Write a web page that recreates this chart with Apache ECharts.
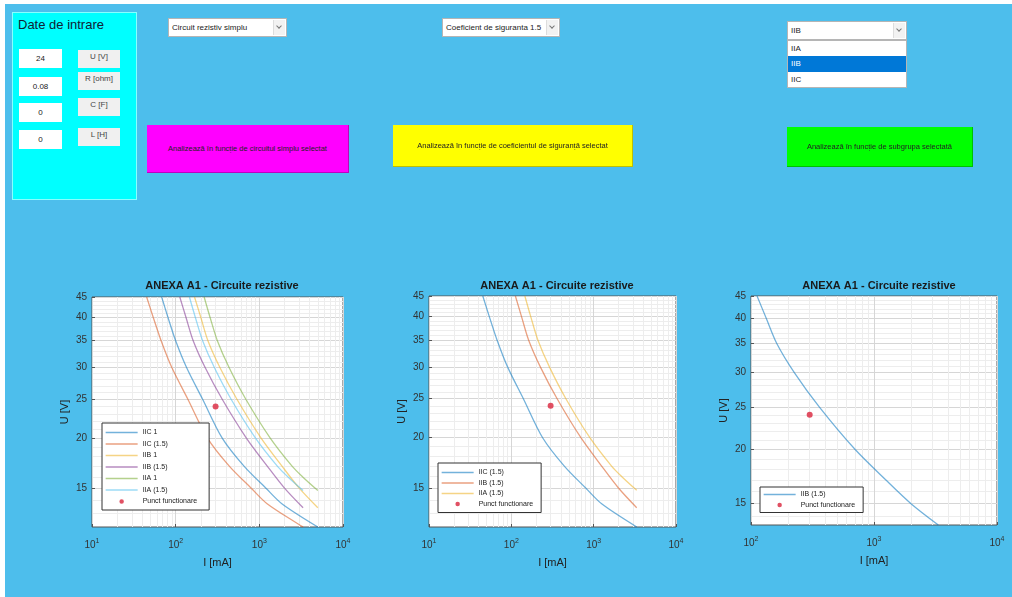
<!DOCTYPE html>
<html>
<head>
<meta charset="utf-8">
<title>ANEXA A1 - Circuite rezistive</title>
<script src="https://cdn.jsdelivr.net/npm/echarts@6/dist/echarts.min.js"></script>
<style>
  html, body { margin: 0; padding: 0; width: 1012px; height: 597px; background: #fff; overflow: hidden; }
  body { font-family: "Liberation Sans", Arial, sans-serif; }
  .fig { position: absolute; left: 5px; top: 4px; right: 0; bottom: 0; background: #4dbeec; }
  #chart { position: absolute; left: 0; top: 0; width: 1012px; height: 597px; }
  .ui { position: absolute; box-sizing: border-box; font-size: 8px; color: #222; white-space: nowrap; }
  .panel { left: 12px; top: 12px; width: 125px; height: 188px; background: #00ffff; border: 1px solid #8ff; }
  .panel-title { left: 18px; top: 17px; font-size: 13px; color: #123; }
  .edit { left: 19px; width: 43px; height: 19px; background: #fff; text-align: center; line-height: 19px; }
  .lbl { left: 78px; width: 42px; height: 18px; background: #f0f0f0; text-align: center; padding-top: 2px; color: #444; }
  .popup { height: 19px; background: #fff; border: 1px solid #b5b5b5; line-height: 17px; padding-left: 3px; }
  .popup .arr { position: absolute; right: 1px; top: 1px; width: 11px; height: 15px; background: #f2f2f2; border-left: 1px solid #ddd; }
  .popup .arr:after { content: ""; position: absolute; left: 3px; top: 4px; width: 3px; height: 3px; border-right: 1px solid #777; border-bottom: 1px solid #777; transform: rotate(45deg); }
  .list { left: 787px; top: 40px; width: 120px; height: 48px; background: #fff; border: 1px solid #b5b5b5; }
  .list div { height: 15.3px; line-height: 15px; padding-left: 3px; }
  .list .sel { background: #0078d7; color: #fff; }
  .btn { text-align: center; font-size: 7.5px; border-right: 1px solid rgba(0,0,0,0.25); border-bottom: 1px solid rgba(0,0,0,0.25); }
</style>
</head>
<body>
<div class="fig"></div>
<div id="chart"></div>

<div class="ui panel"></div>
<div class="ui panel-title">Date de intrare</div>
<div class="ui edit" style="top:49px">24</div>
<div class="ui edit" style="top:77px">0.08</div>
<div class="ui edit" style="top:103px">0</div>
<div class="ui edit" style="top:130px">0</div>
<div class="ui lbl" style="top:50px">U [V]</div>
<div class="ui lbl" style="top:72px">R [ohm]</div>
<div class="ui lbl" style="top:98px">C [F]</div>
<div class="ui lbl" style="top:128px">L [H]</div>

<div class="ui popup" style="left:168px; top:18px; width:119px">Circuit rezistiv simplu<span class="arr"></span></div>
<div class="ui popup" style="left:442px; top:18px; width:118px">Coeficient de siguranta 1.5<span class="arr"></span></div>
<div class="ui popup" style="left:787px; top:21px; width:120px">IIB<span class="arr"></span></div>
<div class="ui list"><div>IIA</div><div class="sel">IIB</div><div>IIC</div></div>

<div class="ui btn" style="left:147px; top:125px; width:202px; height:48px; line-height:47px; background:#ff00ff">Analizează în funcție de circuitul simplu selectat</div>
<div class="ui btn" style="left:393px; top:125px; width:240px; height:42px; line-height:41px; background:#ffff00">Analizează în funcție de coeficientul de siguranță selectat</div>
<div class="ui btn" style="left:787px; top:127px; width:186px; height:40px; line-height:39px; background:#00ff00">Analizează în funcție de subgrupa selectată</div>

<script>
// curbe de aprindere, circuite rezistive: tensiune U [V] si curent I [mA]
const iicU = [45, 40, 35, 30, 25, 20, 17, 15, 13.7, 12];
const iicI1 = [68, 81, 100, 135, 210, 360, 660, 1200, 1875, 5000];
const iicI15 = [45, 54, 67, 90, 140, 240, 440, 800, 1250, 3333];

const iibU = [45, 40, 35, 30, 25, 20, 17, 15, 13.4];
const iibI1 = [168, 200, 243, 338, 540, 1050, 1875, 3000, 5000];
const iibI15 = [112, 133, 162, 225, 360, 700, 1250, 2000, 3333];

const iiaU = [45, 40, 35, 30, 25, 20, 17, 16, 14.8];
const iiaI1 = [219, 258, 315, 435, 690, 1350, 2475, 3300, 5000];
const iiaI15 = [146, 172, 210, 290, 460, 900, 1650, 2200, 3333];

// punctul de functionare
const punctI = [300];
const punctU = [24];

// etichete / grila
const xTicks = [10, 100, 1000, 10000];
const xMinor = [20, 30, 40, 50, 60, 70, 80, 90, 200, 300, 400, 500, 600, 700, 800, 900,
  2000, 3000, 4000, 5000, 6000, 7000, 8000, 9000];
const yTicks = [15, 20, 25, 30, 35, 40, 45];
const yMinor = [13, 14, 16, 17, 18, 19, 21, 22, 23, 24, 26, 27, 28, 29, 31, 32, 33, 34,
  36, 37, 38, 39, 41, 42, 43, 44];

const col = {
  blue: '#0072BD', orange: '#D95319', yellow: '#EDB120',
  purple: '#7E2F8E', green: '#77AC30', cyan: '#4DBEEE', red: '#d9243c'
};
const PUNCT = 'Punct functionare';
// cerc mic pentru legenda (colturile aproape invizibile fixeaza marimea)
const dotIcon = 'path://M0,0h0.1v0.1h-0.1z M10,10h-0.1v-0.1h0.1z M5,1.8a3.2,3.2 0 1,0 0.001,0z';

function pairs(I, U) {
  return I.map((v, i) => [v, U[i]]);
}

// 3 grafice: pozitie grid + limite axe
const grids = [
  { left: 92, top: 297, width: 251, height: 230, xmin: 10, ymin: 12, center: 217 },
  { left: 429, top: 296, width: 247, height: 231, xmin: 10, ymin: 12, center: 552 },
  { left: 751, top: 296, width: 246, height: 229, xmin: 100, ymin: 13.4, center: 874 }
];

const axisText = { color: '#333', fontSize: 10, fontFamily: 'Liberation Sans' };

let xAxes = [], yAxes = [];
// intai axele cu grila minora, ca sa fie desenate sub cele principale
grids.forEach((g, k) => {
  xAxes.push({
    type: 'log', logBase: 10, gridIndex: k, min: g.xmin, max: 10000, position: 'top',
    axisLine: { show: false }, axisLabel: { show: false },
    axisTick: { show: false, customValues: xMinor },
    splitLine: { show: true, lineStyle: { color: '#ededed', width: 1 } }
  });
  yAxes.push({
    type: 'log', logBase: 10, gridIndex: k, min: g.ymin, max: 45, position: 'right',
    axisLine: { show: false }, axisLabel: { show: false },
    axisTick: { show: false, customValues: yMinor },
    splitLine: { show: true, lineStyle: { color: '#ededed', width: 1 } }
  });
});
grids.forEach((g, k) => {
  xAxes.push({
    type: 'log', logBase: 10, gridIndex: k, min: g.xmin, max: 10000, position: 'bottom',
    name: 'I [mA]', nameLocation: 'middle', nameGap: 30,
    nameTextStyle: { color: '#222', fontSize: 11, fontFamily: 'Liberation Sans' },
    axisLine: { show: false },
    axisTick: { show: true, inside: true, length: 3, customValues: xTicks, lineStyle: { color: '#555' } },
    axisLabel: {
      customValues: xTicks, margin: 11,
      formatter: v => '{b|10}{s|' + Math.round(Math.log10(v)) + '}',
      rich: {
        b: { fontSize: 10, color: '#333', fontFamily: 'Liberation Sans' },
        s: { fontSize: 7, color: '#333', fontFamily: 'Liberation Sans', padding: [0, 0, 7, 0] }
      }
    },
    splitLine: { show: true, lineStyle: { color: '#d6d6d6', width: 1 } }
  });
  yAxes.push({
    type: 'log', logBase: 10, gridIndex: k, min: g.ymin, max: 45, position: 'left',
    name: 'U [V]', nameLocation: 'middle', nameGap: 22,
    nameTextStyle: { color: '#222', fontSize: 11, fontFamily: 'Liberation Sans' },
    axisLine: { show: false },
    axisTick: { show: true, inside: true, length: 3, customValues: yTicks, lineStyle: { color: '#555' } },
    axisLabel: Object.assign({ customValues: yTicks, margin: 5 }, axisText),
    splitLine: { show: true, lineStyle: { color: '#d6d6d6', width: 1 } }
  });
});

function curve(name, I, U, color, k) {
  return {
    name: name, type: 'line', xAxisIndex: 3 + k, yAxisIndex: 3 + k,
    data: pairs(I, U), symbol: 'none', smooth: 0.3, z: 3,
    lineStyle: { color: color, width: 1.3, opacity: 0.55 },
    itemStyle: { color: color }
  };
}
function punct(k) {
  return {
    name: PUNCT, type: 'scatter', xAxisIndex: 3 + k, yAxisIndex: 3 + k,
    data: pairs(punctI, punctU), symbol: 'circle', symbolSize: 6, z: 4,
    itemStyle: { color: col.red, opacity: 0.8 }
  };
}

const series = [
  curve('IIC 1', iicI1, iicU, col.blue, 0),
  curve('IIC (1.5)', iicI15, iicU, col.orange, 0),
  curve('IIB 1', iibI1, iibU, col.yellow, 0),
  curve('IIB (1.5)', iibI15, iibU, col.purple, 0),
  curve('IIA 1', iiaI1, iiaU, col.green, 0),
  curve('IIA (1.5)', iiaI15, iiaU, col.cyan, 0),
  punct(0),
  curve('IIC (1.5)', iicI15, iicU, col.blue, 1),
  curve('IIB (1.5)', iibI15, iibU, col.orange, 1),
  curve('IIA (1.5)', iiaI15, iiaU, col.yellow, 1),
  punct(1),
  curve('IIB (1.5)', iibI15, iibU, col.blue, 2),
  punct(2)
];

function legendItems(list) {
  return list.map(([name, color]) => name === PUNCT
    ? { name: name, icon: dotIcon, itemStyle: { color: col.red, opacity: 0.8 } }
    : {
        name: name,
        itemStyle: { color: 'rgba(0,0,0,0)', borderWidth: 0, opacity: 0 },
        lineStyle: { color: color, width: 1.3, opacity: 0.55 }
      });
}
function legend(left, top, gap, pad, list) {
  return {
    orient: 'vertical', left: left, top: top,
    backgroundColor: '#fff', borderColor: '#333', borderWidth: 1,
    padding: pad, itemWidth: 32, itemHeight: 7, itemGap: gap,
    textStyle: { fontSize: 7, color: '#222', fontFamily: 'Liberation Sans' },
    selectedMode: false,
    data: legendItems(list)
  };
}

const chart = echarts.init(document.getElementById('chart'));
chart.setOption({
  animation: false,
  backgroundColor: 'transparent',
  title: grids.map(g => ({
    text: 'ANEXA A1 - Circuite rezistive',
    left: g.center, top: 275, textAlign: 'center',
    textStyle: { fontSize: 11, fontWeight: 'bold', color: '#1a1a1a', fontFamily: 'Liberation Sans' }
  })),
  grid: grids.map(g => ({
    left: g.left, top: g.top, width: g.width, height: g.height,
    show: true, backgroundColor: '#fff', borderColor: '#555', borderWidth: 1
  })),
  legend: [
    legend(102, 423, 4.5, [6, 12, 5, 3], [['IIC 1', col.blue], ['IIC (1.5)', col.orange], ['IIB 1', col.yellow],
      ['IIB (1.5)', col.purple], ['IIA 1', col.green], ['IIA (1.5)', col.cyan], [PUNCT]]),
    legend(438, 463, 3.5, [6, 8, 5, 3], [['IIC (1.5)', col.blue], ['IIB (1.5)', col.orange], ['IIA (1.5)', col.yellow], [PUNCT]]),
    legend(760, 487, 3.5, [4, 8, 4, 3], [['IIB (1.5)', col.blue], [PUNCT]])
  ],
  xAxis: xAxes,
  yAxis: yAxes,
  series: series
});
</script>
</body>
</html>
